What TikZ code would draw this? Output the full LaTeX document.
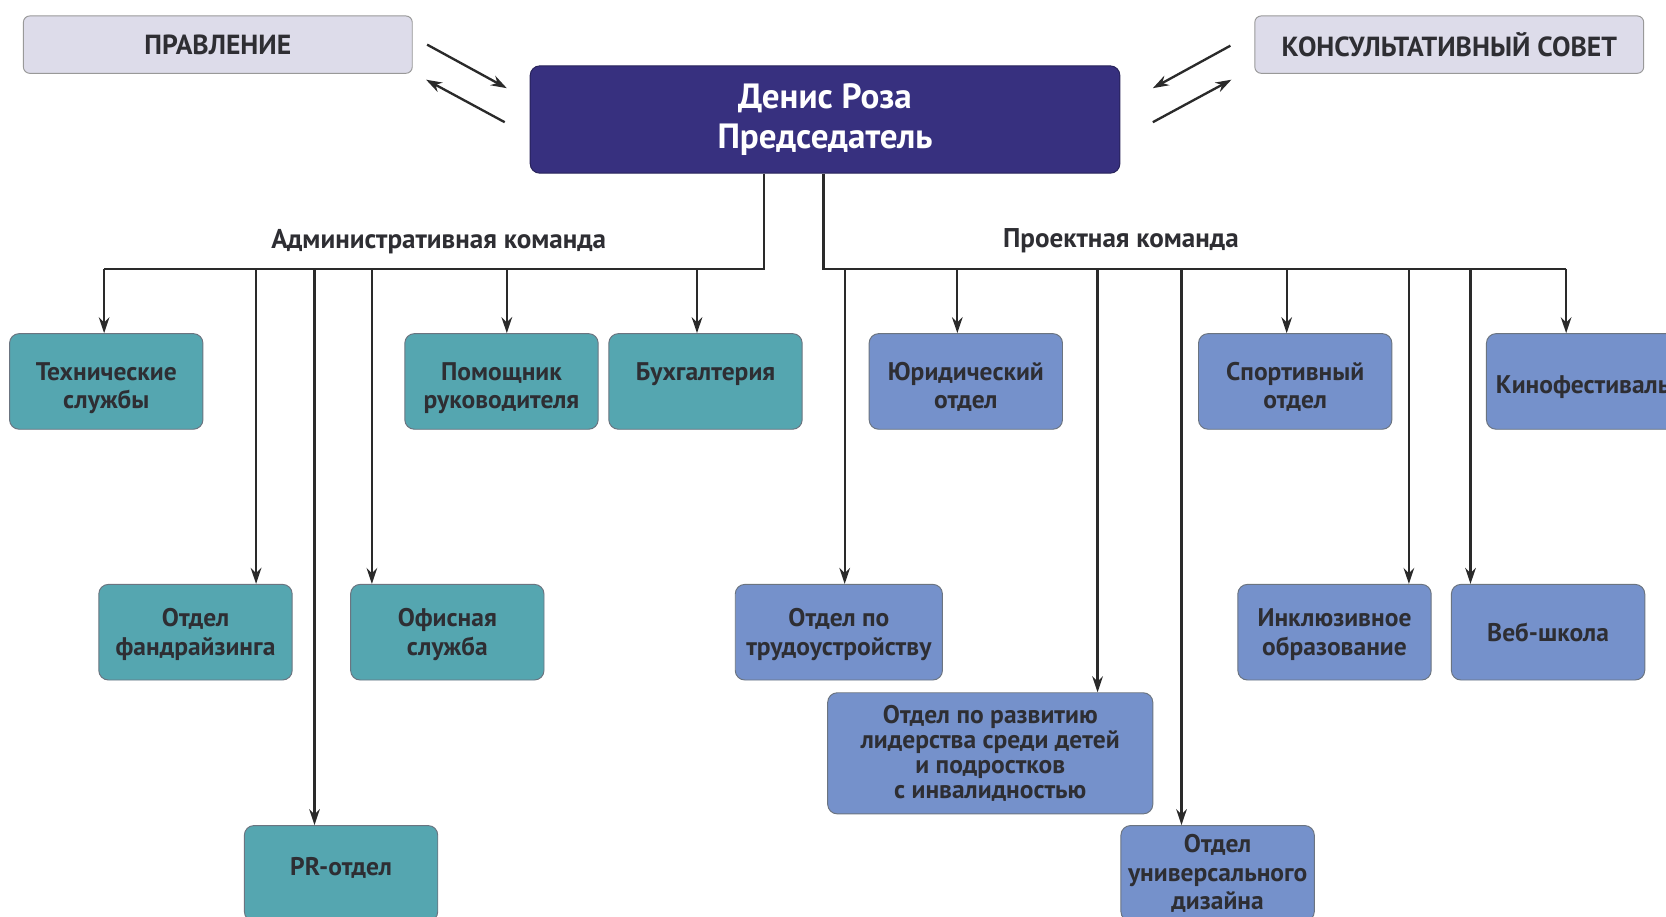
\documentclass[tikz,border=0pt]{standalone}
\usepackage{fontspec}
\setmainfont{PT Sans}
\usetikzlibrary{arrows.meta}
\definecolor{tealc}{HTML}{55A6B0}
\definecolor{bluec}{HTML}{7591CB}
\definecolor{chairc}{HTML}{37307F}
\definecolor{lavc}{HTML}{DDDCEA}
\definecolor{bordc}{HTML}{6B7480}
\definecolor{txtc}{HTML}{2E2E33}
\definecolor{linec}{HTML}{2A2A2A}
\newcommand{\twoln}[3]{\raisebox{#1}[\height][\depth]{\begin{tabular}{@{}c@{}}#2\\#3\end{tabular}}}
\newcommand{\oneln}[2]{\raisebox{#1}[\height][\depth]{#2}}
\begin{document}
\begin{tikzpicture}[x=1pt,y=-1pt,
  boxbase/.style={draw=bordc, line width=0.9pt, rounded corners=9pt, align=center,
    text=txtc, inner sep=0pt, font=\bfseries\fontsize{24}{27}\selectfont},
  tbox/.style={boxbase, fill=tealc, minimum width=182pt, minimum height=90pt},
  bbox/.style={boxbase, fill=bluec, minimum width=182pt, minimum height=90pt},
  topbox/.style={boxbase, fill=lavc, minimum width=366pt, minimum height=54pt, rounded corners=6pt, draw=gray!80, font=\bfseries\fontsize{26}{30}\selectfont},
  ln/.style={draw=linec, line width=2.2pt},
  arr/.style={ln, -{Stealth[length=15pt,width=10pt]}},
  team/.style={font=\bfseries\fontsize{25.5}{30}\selectfont, text=txtc, inner sep=0pt}
]
\useasboundingbox (0,0) rectangle (1568,863);
\clip (0,0) rectangle (1568,863);

% top
\node[topbox] (board) at (205,42) {ПРАВЛЕНИЕ};
\node[topbox] (council) at (1364,42) {КОНСУЛЬТАТИВНЫЙ СОВЕТ};
\node[boxbase, fill=chairc, draw=chairc!70!black, minimum width=555pt, minimum height=101pt,
      text=white, font=\bfseries\fontsize{33}{37}\selectfont] (chair) at (776.5,112.5)
      {Денис Роза\\Председатель};

\coordinate (b1) at (402,42); \coordinate (b2) at (477,83);
\coordinate (b3) at (475,115); \coordinate (b4) at (401,75);
\coordinate (c1) at (1158,43); \coordinate (c2) at (1085,83);
\coordinate (c3) at (1085,115); \coordinate (c4) at (1159,75);
\draw[arr] (b1) -- (b2);
\draw[arr] (b3) -- (b4);
\draw[arr] (c1) -- (c2);
\draw[arr] (c3) -- (c4);

% team labels
\node[team] (adm) at (413,227) {Административная команда};
\node[team] (prj) at (1055,227) {Проектная команда};

% admin boxes
\node[tbox] (tech) at (100,359) {\twoln{-7pt}{Технические}{службы}};
\node[tbox] (assist) at (472,359) {\twoln{-7pt}{Помощник}{руководителя}};
\node[tbox] (acc) at (664,359) {\oneln{7pt}{Бухгалтерия}};
\node[tbox] (fund) at (184,595) {\twoln{-3pt}{Отдел}{фандрайзинга}};
\node[tbox] (office) at (421,595) {\twoln{-3pt}{Офисная}{служба}};
\node[tbox] (pr) at (321,822) {\oneln{5pt}{PR-отдел}};

% project boxes
\node[bbox] (law) at (909,359) {\twoln{-7pt}{Юридический}{отдел}};
\node[bbox] (sport) at (1219,359) {\twoln{-7pt}{Спортивный}{отдел}};
\node[bbox] (film) at (1490,359) {\oneln{-5pt}{Кинофестиваль}};
\node[bbox, minimum width=195pt] (job) at (789.5,595) {\twoln{-3pt}{Отдел по}{трудоустройству}};
\node[bbox] (incl) at (1256,595) {\twoln{-3pt}{Инклюзивное}{образование}};
\node[bbox] (web) at (1457,595) {Веб-школа};
\node[bbox, minimum width=306pt, minimum height=114pt,
      font=\bfseries\fontsize{24}{23.5}\selectfont] (lead) at (932,709)
      {Отдел по развитию\\лидерства среди детей\\и подростков\\с инвалидностью};
\node[bbox] (udes) at (1146,822) {Отдел\\универсального\\дизайна};

% trunks
\coordinate (lt) at (719,253);
\coordinate (rt) at (775,253);
\coordinate (a1) at (98,253);
\coordinate (a2) at (241,253);
\coordinate (a3) at (296,253);
\coordinate (a4) at (350,253);
\coordinate (a5) at (477,253);
\coordinate (a6) at (656,253);
\coordinate (p1) at (795,253);
\coordinate (p2) at (901,253);
\coordinate (p3) at (1033,253);
\coordinate (p4) at (1112,253);
\coordinate (p5) at (1211,253);
\coordinate (p6) at (1326,253);
\coordinate (p7) at (1384,253);
\coordinate (p8) at (1474,253);

\draw[ln] (lt |- chair.south) -- (lt) -- (a1);
\draw[ln] (rt |- chair.south) -- (rt) -- (p8);

\draw[arr] (a1) -- (a1 |- tech.north);
\draw[arr] (a2) -- (a2 |- fund.north);
\draw[arr] (a3) -- (a3 |- pr.north);
\draw[arr] (a4) -- (a4 |- office.north);
\draw[arr] (a5) -- (a5 |- assist.north);
\draw[arr] (a6) -- (a6 |- acc.north);

\draw[arr] (p1) -- (p1 |- job.north);
\draw[arr] (p2) -- (p2 |- law.north);
\draw[arr] (p3) -- (p3 |- lead.north);
\draw[arr] (p4) -- (p4 |- udes.north);
\draw[arr] (p5) -- (p5 |- sport.north);
\draw[arr] (p6) -- (p6 |- incl.north);
\draw[arr] (p7) -- (p7 |- web.north);
\draw[arr] (p8) -- (p8 |- film.north);
\end{tikzpicture}
\end{document}
